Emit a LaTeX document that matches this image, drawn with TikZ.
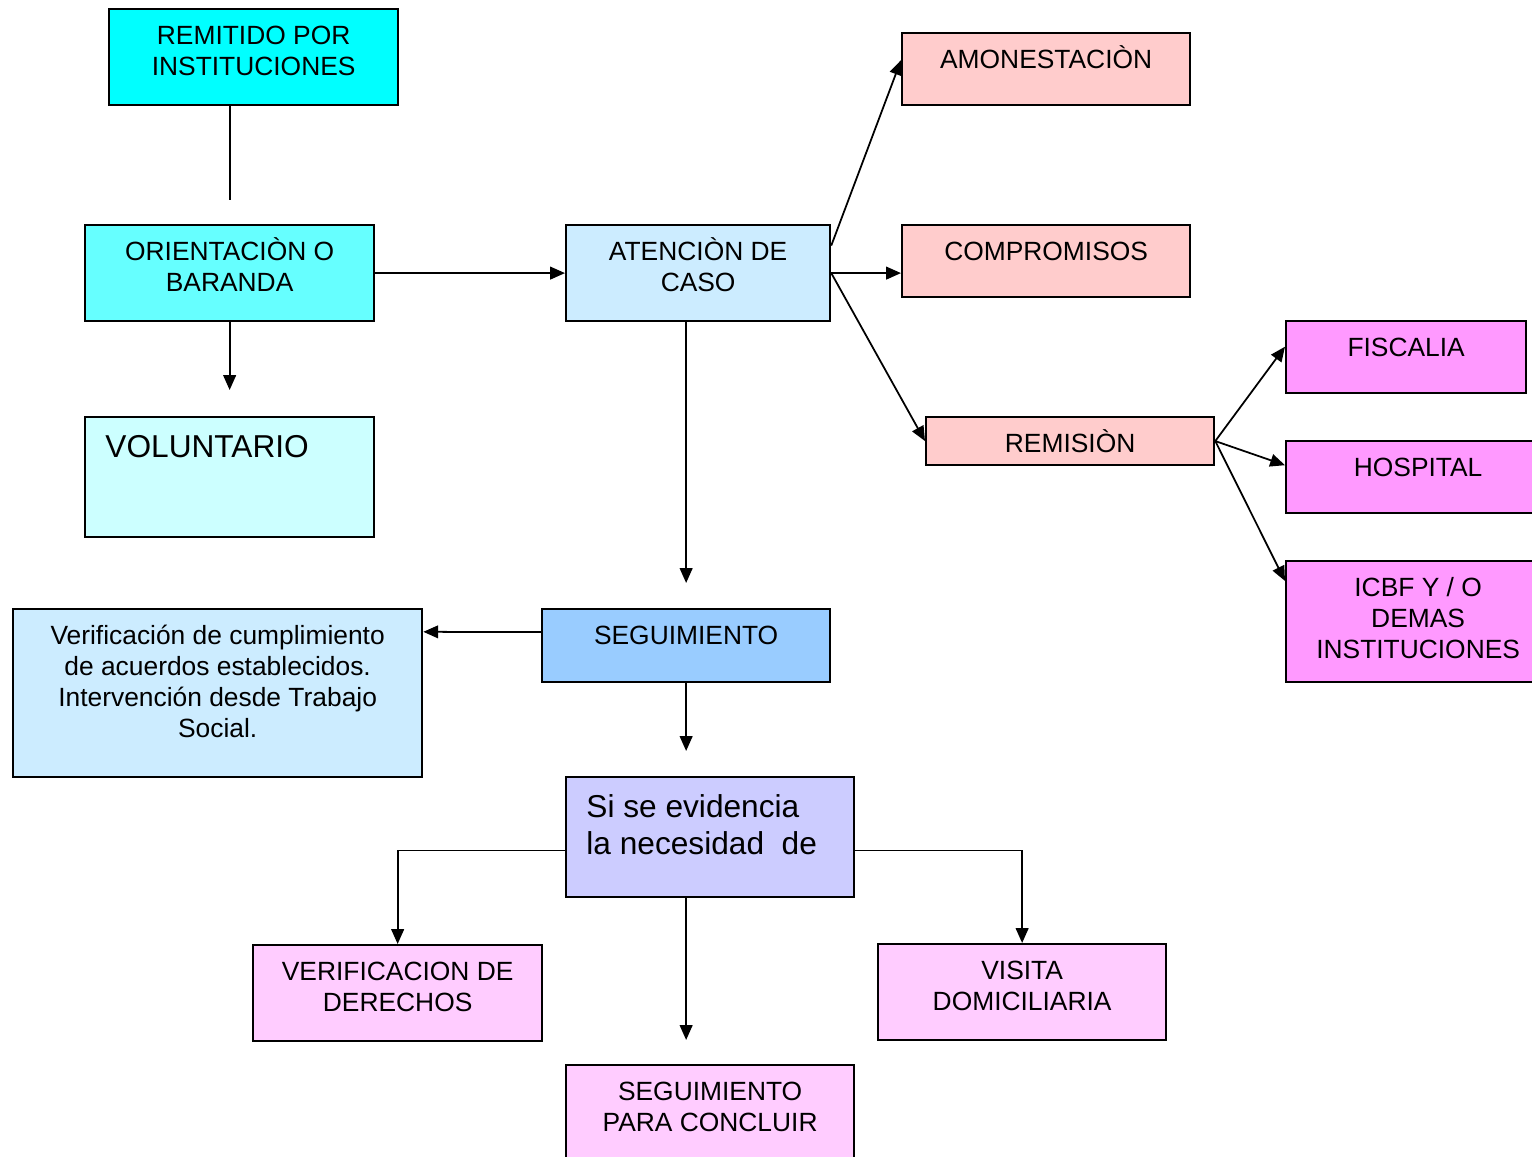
\documentclass[tikz,border=0pt]{standalone}
\usepackage{fontspec}
\setmainfont{Liberation Sans}
\usepackage{xcolor}
\usetikzlibrary{calc}
\usetikzlibrary{arrows.meta}

\definecolor{cianA}{HTML}{00FFFF}
\definecolor{cianB}{HTML}{66FFFF}
\definecolor{cianC}{HTML}{CCFFFF}
\definecolor{celeste}{HTML}{CCECFF}
\definecolor{azulA}{HTML}{99CCFF}
\definecolor{lila}{HTML}{CCCCFF}
\definecolor{rosaA}{HTML}{FFCCCC}
\definecolor{rosaB}{HTML}{FF99FF}
\definecolor{rosaC}{HTML}{FFCCFF}

\newcommand{\alto}{\rule{0pt}{7.2pt}}
\newcommand{\altog}{\rule{0pt}{8.6pt}}

\tikzset{
  caja/.style={draw, line width=0.6pt, anchor=north west, inner sep=0pt},
  texto/.style={font=\fontsize{7.5}{8.8}\selectfont, align=center, inner sep=0pt, anchor=north, yshift=-3.1pt},
  textogrande/.style={font=\fontsize{9}{10.5}\selectfont, align=left, inner sep=0pt, anchor=north west, xshift=5.9pt, yshift=-3pt},
  flecha/.style={-{Triangle[length=4.2pt,width=3.6pt]}, line width=0.5pt},
  linea/.style={line width=0.5pt}
}

\begin{document}
\begin{tikzpicture}[x=0.01cm,y=-0.01cm]
\useasboundingbox (0,0) rectangle (1532,1157);

\node[caja, fill=cianA, minimum width=2.89cm, minimum height=0.96cm, label={[texto]north:{\alto REMITIDO POR\\INSTITUCIONES}}] (remitido) at (108,8) {};	% remitido
\node[caja, fill=cianB, minimum width=2.89cm, minimum height=0.96cm, label={[texto]north:{\alto ORIENTACIÒN O\\BARANDA}}] (orienta) at (84,224) {};	% orientacion
\node[caja, fill=cianC, minimum width=2.89cm, minimum height=1.20cm, label={[textogrande]north west:{\altog VOLUNTARIO}}] (volunt) at (84,416) {};	% voluntario
\node[caja, fill=celeste, minimum width=2.64cm, minimum height=0.96cm, label={[texto]north:{\alto ATENCIÒN DE\\CASO}}] (atencion) at (565,224) {};	% atencion de caso

\node[caja, fill=rosaA, minimum width=2.88cm, minimum height=0.72cm, label={[texto]north:{\alto AMONESTACIÒN}}] (amon) at (901,32) {};	% amonestacion
\node[caja, fill=rosaA, minimum width=2.88cm, minimum height=0.72cm, label={[texto]north:{\alto COMPROMISOS}}] (compr) at (901,224) {};	% compromisos
\node[caja, fill=rosaA, minimum width=2.88cm, minimum height=0.48cm, label={[texto]north:{\alto REMISIÒN}}] (remision) at (925,416) {};	% remision

\node[caja, fill=rosaB, minimum width=2.40cm, minimum height=0.72cm, label={[texto]north:{\alto FISCALIA}}] (fisc) at (1285,320) {};	% fiscalia
\node[caja, fill=rosaB, minimum width=2.64cm, minimum height=0.72cm, label={[texto]north:{\alto HOSPITAL}}] (hosp) at (1285,440) {};	% hospital
\node[caja, fill=rosaB, minimum width=2.64cm, minimum height=1.21cm, label={[texto]north:{\alto ICBF Y / O\\DEMAS\\INSTITUCIONES}}] (icbf) at (1285,560) {};	% icbf

\node[caja, fill=azulA, minimum width=2.88cm, minimum height=0.73cm, label={[texto]north:{\alto SEGUIMIENTO}}] (seguim) at (541,608) {};	% seguimiento
\node[caja, fill=celeste, minimum width=4.09cm, minimum height=1.68cm, label={[texto]north:{\alto Verificación de cumplimiento\\de acuerdos establecidos.\\Intervención desde Trabajo\\Social.}}] (verif) at (12,608) {};	% verificacion de acuerdos
\node[caja, fill=lila, minimum width=2.88cm, minimum height=1.20cm, label={[textogrande]north west:{\altog Si se evidencia\\la necesidad~ de}}] (sinec) at (565,776) {};	% si se evidencia

\node[caja, fill=rosaC, minimum width=2.89cm, minimum height=0.96cm, label={[texto]north:{\alto VERIFICACION DE\\DERECHOS}}] (derechos) at (252,944) {};	% verificacion de derechos
\node[caja, fill=rosaC, minimum width=2.88cm, minimum height=0.96cm, label={[texto]north:{\alto VISITA\\DOMICILIARIA}}] (visita) at (877,943) {};	% visita domiciliaria
\node[caja, fill=rosaC, minimum width=2.88cm, minimum height=1.20cm, label={[texto]north:{\alto SEGUIMIENTO\\PARA CONCLUIR}}] (concluir) at (565,1064) {};	% seguimiento para concluir

\draw[linea, shorten >=0.24cm] (remitido.south -| orienta.north) -- (orienta.north);			% remitido - orientacion
\draw[flecha] (orienta.east) -- (atencion.west);										% orientacion - atencion
\draw[flecha, shorten >=0.26cm] (orienta.south) -- (volunt.north);						% orientacion - voluntario

\draw[flecha] ($(atencion.east)!0.56!(atencion.north east)$) -- ($(amon.north west)!0.38!(amon.south west)$);	% atencion - amonestacion
\draw[flecha] (atencion.east) -- (atencion.east -| compr.west);						% atencion - compromisos
\draw[flecha] (atencion.east) -- (remision.west);										% atencion - remision

\draw[flecha] (remision.east) -- ($(fisc.north west)!0.36!(fisc.south west)$);			% remision - fiscalia
\draw[flecha] (remision.east) -- ($(hosp.north west)!0.34!(hosp.south west)$);			% remision - hospital
\draw[flecha] (remision.east) -- ($(icbf.north west)!0.17!(icbf.south west)$);			% remision - icbf

\draw[flecha, shorten >=0.25cm] (atencion.south -| seguim.north) -- (seguim.north);		% atencion - seguimiento
\draw[flecha] ($(seguim.north west)!0.32!(seguim.south west)$) -- ($(verif.north east)!0.14!(verif.south east)$);	% seguimiento - verificacion
\draw[flecha, shorten >=0.25cm] (seguim.south) -- (seguim.south |- sinec.north);		% seguimiento - si se evidencia

\draw[flecha] ($(sinec.north west)!0.61!(sinec.south west)$) -| (derechos.north);		% si se evidencia - derechos
\draw[flecha] ($(sinec.north east)!0.61!(sinec.south east)$) -| (visita.north);			% si se evidencia - visita
\draw[flecha, shorten >=0.24cm] (sinec.south -| seguim.south) -- (concluir.north -| seguim.south);	% si se evidencia - concluir

\end{tikzpicture}
\end{document}
